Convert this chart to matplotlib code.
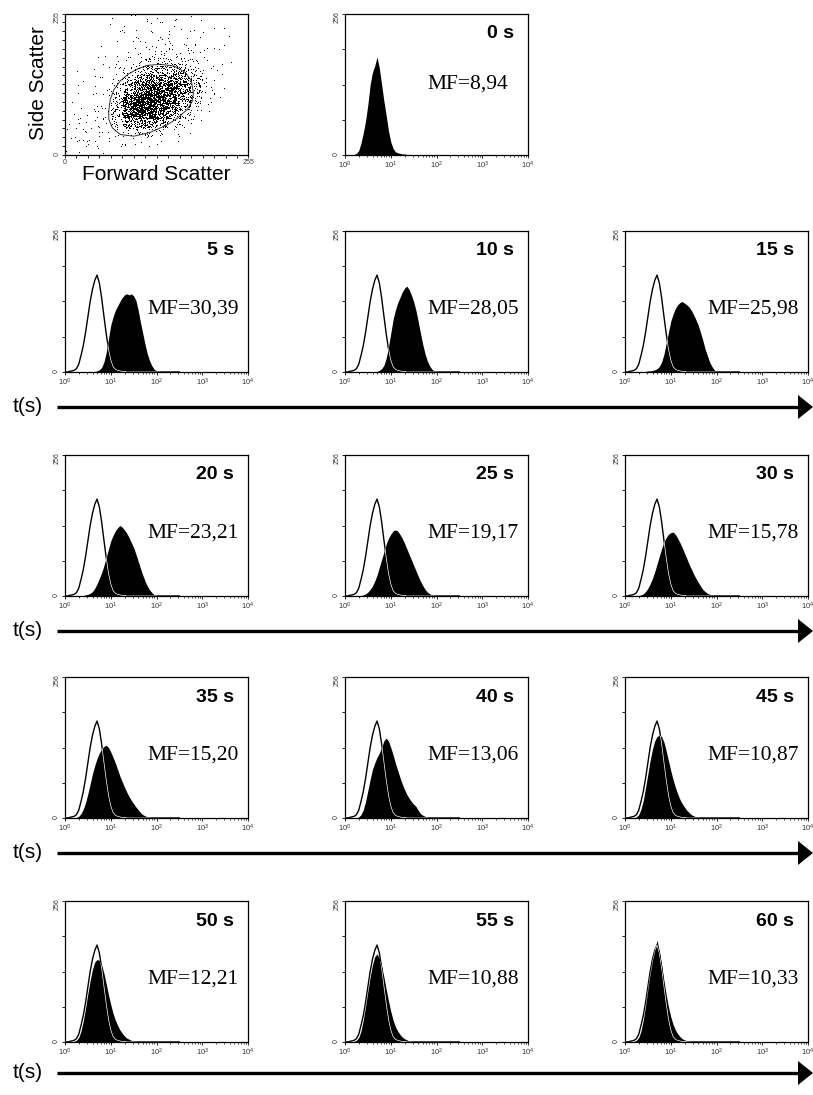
import numpy as np
import matplotlib
matplotlib.use('Agg')
import matplotlib.pyplot as plt
from matplotlib.patches import Polygon
from matplotlib.ticker import LogLocator, NullFormatter, MultipleLocator, FixedLocator

plt.rcParams['font.family'] = ['Liberation Sans', 'DejaVu Sans']
plt.rcParams['mathtext.fontset'] = 'custom'
plt.rcParams['mathtext.rm'] = 'Liberation Sans'
plt.rcParams['mathtext.it'] = 'Liberation Sans:italic'

W, H = 813, 1095

# ---- histogram data: counts per 0.05-decade channel (log10 fluorescence) ----
log_bins = np.round(np.arange(0, 2.55, 0.05), 2)
N = len(log_bins)


def pad(start, vals):
    out = [0] * start + vals
    return out + [0] * (N - len(out))


control = pad(0, [0, 0, 1, 2, 3, 6, 14, 30, 48, 72, 100, 128, 150, 166, 176, 162, 135, 102, 70, 42,
                  22, 10, 5, 3, 2, 1, 1])
h0 = pad(0, [0, 0, 0, 0, 1, 3, 8, 22, 40, 62, 92, 128, 150, 162, 178, 158, 128, 98, 72, 44,
             24, 12, 6, 4, 3, 2, 2, 1, 1])
h5 = pad(12, [1, 1, 2, 4, 8, 18, 35, 60, 85, 100, 112, 120, 128, 135, 140, 142, 140, 142, 138, 130,
              112, 90, 70, 50, 33, 20, 11, 5, 2, 1])
h10 = pad(14, [1, 3, 6, 12, 25, 45, 70, 95, 112, 125, 135, 145, 152, 156, 150, 140, 128, 112, 92, 70,
               50, 33, 20, 11, 5, 2, 1])
h15 = pad(8, [1, 1, 2, 2, 3, 4, 6, 10, 18, 32, 52, 72, 92, 105, 115, 122, 126, 128, 125, 122,
              118, 112, 104, 95, 85, 72, 58, 42, 30, 18, 10, 4, 1])
h20 = pad(8, [1, 2, 3, 5, 8, 14, 22, 32, 42, 55, 70, 85, 100, 110, 118, 124, 128, 125, 120, 114,
              106, 97, 88, 76, 63, 50, 38, 27, 18, 11, 6, 2, 1])
h25 = pad(7, [1, 2, 4, 7, 12, 18, 27, 38, 52, 66, 80, 94, 105, 112, 118, 120, 118, 112, 105, 96,
              86, 76, 66, 56, 46, 36, 27, 19, 12, 7, 4, 2, 1])
h30 = pad(6, [1, 2, 4, 8, 14, 22, 32, 44, 58, 72, 86, 98, 106, 112, 115, 116, 112, 105, 97, 88,
              78, 68, 58, 49, 40, 32, 25, 18, 12, 8, 5, 3, 1])
h35 = pad(5, [1, 3, 8, 16, 28, 44, 62, 80, 95, 108, 118, 125, 130, 132, 128, 120, 110, 100, 88, 76,
              66, 56, 47, 39, 32, 26, 20, 15, 10, 6, 4, 2, 1])
h40 = pad(6, [2, 6, 15, 30, 50, 70, 88, 100, 110, 118, 128, 140, 145, 140, 128, 115, 100, 87, 74, 62,
              52, 43, 36, 30, 25, 21, 14, 8, 5, 3, 1])
h45 = pad(5, [2, 6, 16, 32, 55, 80, 105, 125, 140, 148, 150, 148, 138, 122, 104, 86, 70, 56, 44, 34,
              26, 20, 14, 10, 6, 4, 2, 1])
h50 = pad(4, [1, 3, 8, 20, 38, 62, 88, 112, 132, 145, 150, 148, 140, 125, 106, 86, 68, 52, 40, 30,
              22, 16, 11, 7, 5, 3, 2, 1])
h55 = pad(4, [1, 3, 8, 20, 40, 65, 92, 118, 140, 155, 160, 152, 138, 118, 96, 75, 56, 40, 28, 20,
              14, 9, 6, 4, 2, 1])
h60 = pad(4, [1, 3, 8, 20, 40, 66, 96, 124, 148, 166, 185, 165, 140, 112, 86, 64, 46, 32, 22, 15,
              10, 6, 4, 2, 1])

time_labels = ['0 s', '5 s', '10 s', '15 s', '20 s', '25 s', '30 s',
               '35 s', '40 s', '45 s', '50 s', '55 s', '60 s']
mf_labels = ['MF=8,94', 'MF=30,39', 'MF=28,05', 'MF=25,98', 'MF=23,21', 'MF=19,17', 'MF=15,78',
             'MF=15,20', 'MF=13,06', 'MF=10,87', 'MF=12,21', 'MF=10,88', 'MF=10,33']
filled = [h0, h5, h10, h15, h20, h25, h30, h35, h40, h45, h50, h55, h60]

# ---- dot plot: events per 16x16 cell (rows: SSC high -> low, cols: FSC low -> high) ----
ssc_fsc_density = [
    [0, 0, 0, 0, 1, 1, 1, 2, 1, 2, 1, 1, 1, 0, 0, 0],
    [0, 0, 0, 1, 1, 1, 1, 1, 2, 1, 1, 1, 1, 1, 0, 0],
    [0, 0, 0, 0, 1, 1, 2, 2, 2, 2, 2, 1, 1, 0, 1, 0],
    [0, 0, 0, 1, 1, 1, 2, 3, 3, 3, 2, 2, 1, 1, 0, 0],
    [0, 0, 0, 1, 1, 2, 3, 4, 5, 5, 4, 3, 2, 1, 0, 0],
    [0, 0, 1, 1, 2, 3, 6, 10, 14, 14, 10, 5, 2, 1, 1, 0],
    [0, 1, 1, 1, 3, 8, 18, 32, 40, 36, 24, 11, 3, 1, 0, 0],
    [0, 1, 1, 2, 5, 20, 48, 72, 80, 70, 44, 18, 4, 1, 0, 0],
    [0, 1, 1, 2, 10, 44, 92, 120, 120, 96, 58, 20, 4, 1, 0, 0],
    [0, 1, 2, 2, 16, 76, 136, 150, 132, 96, 52, 15, 3, 1, 0, 0],
    [1, 1, 2, 3, 24, 104, 160, 156, 120, 74, 32, 8, 2, 0, 0, 0],
    [1, 2, 3, 3, 24, 96, 132, 118, 80, 40, 14, 3, 1, 0, 0, 0],
    [1, 3, 3, 3, 12, 46, 62, 50, 30, 12, 4, 1, 0, 0, 0, 0],
    [2, 3, 3, 2, 4, 10, 14, 11, 6, 3, 1, 0, 0, 0, 0, 0],
    [2, 4, 3, 2, 1, 2, 2, 2, 1, 1, 0, 0, 0, 0, 0, 0],
    [1, 2, 2, 1, 1, 1, 0, 1, 0, 0, 0, 0, 0, 0, 0, 0],
]
gate_fsc = [61, 63, 68, 77, 88, 100, 114, 133, 152, 168, 176, 179, 177, 170, 157, 143, 119, 96, 77, 66, 61]
gate_ssc = [80, 100, 118, 134, 146, 155, 162, 164, 161, 149, 134, 112, 96, 82, 67, 55, 41, 34, 37, 49, 65]

# ---- layout in pixels ----
col_x = [65, 345, 625]
row_top = [14, 231, 455, 677, 901]
PW, PH = 183, 141
arrow_y = [407, 631, 853, 1073]


def px_axes(fig, x, top, w, h):
    return fig.add_axes([x / W, 1 - (top + h) / H, w / W, h / H])


def spread(n, seed):
    # deterministic in-cell placement of the events of one cell
    k = np.arange(n) + seed * 131.0
    return (np.abs(np.sin(k * 12.9898 + seed * 0.731) * 43758.5453) % 1,
            np.abs(np.sin(k * 78.233 + seed * 1.917) * 24634.6345) % 1)


fig = plt.figure(figsize=(W / 100, H / 100), dpi=100)

# overlay for arrows and free text, in pixel units
ov = fig.add_axes([0, 0, 1, 1])
ov.set_xlim(0, W)
ov.set_ylim(H, 0)
ov.axis('off')

for y in arrow_y:
    ov.plot([57, 800], [y, y], color='black', lw=2.4, solid_capstyle='butt')
    ov.add_patch(Polygon([[798, y - 12], [813, y], [798, y + 12]], closed=True, color='black', lw=0))
    ov.text(28, y, 't(s)', fontsize=15, ha='center', va='center')

# ---- dot plot ----
ax = px_axes(fig, col_x[0], row_top[0], PW, PH)
xs, ys = [], []
nrow = len(ssc_fsc_density)
for r, row in enumerate(ssc_fsc_density):
    for c, n in enumerate(row):
        if n == 0:
            continue
        u, v = spread(n, r * 16 + c + 1)
        xs.extend(c * 16 + 16 * u)
        ys.extend((nrow - 1 - r) * 16 + 16 * v)
ax.plot(xs, ys, ',', color='black')
ax.add_patch(Polygon(np.column_stack([gate_fsc, gate_ssc]), closed=True, fill=False,
                     edgecolor='#333333', lw=0.7))
ax.set_xlim(0, 255)
ax.set_ylim(0, 255)
ax.set_xticks([0, 255])
ax.set_yticks([0, 255])
ax.set_xticklabels(['0', '255'])
ax.set_yticklabels(['0', '255'])
ax.xaxis.set_minor_locator(MultipleLocator(16))
ax.yaxis.set_minor_locator(MultipleLocator(16))
ax.tick_params(which='both', direction='out', length=2, width=0.6, labelsize=5, pad=1,
               labelcolor='#444444')
ax.tick_params(axis='y', labelrotation=90)
for s in ax.spines.values():
    s.set_linewidth(0.9)
ov.text(39, 83, 'Side Scatter', fontsize=15, rotation=90, ha='center', va='center')
ov.text(156, 174, 'Forward Scatter', fontsize=15, ha='center', va='center')

# ---- histograms ----
chan = 10 ** log_bins
slots = [(0, 1)] + [(r, c) for r in range(1, 5) for c in range(3)]

for i, (r, c) in enumerate(slots):
    ax = px_axes(fig, col_x[c], row_top[r], PW, PH)
    if i > 0:
        ax.plot(chan, control, color='black', lw=1.0, zorder=2)
    fill = ax.fill_between(chan, 0, filled[i], color='black', lw=0, zorder=3)
    if i > 0:
        inner, = ax.plot(chan, control, color='white', lw=0.5, zorder=4)
        inner.set_clip_path(fill.get_paths()[0], ax.transData)
    ax.set_xscale('log')
    ax.set_xlim(1, 1e4)
    ax.set_ylim(0, 256)
    ax.xaxis.set_major_locator(LogLocator(base=10, numticks=6))
    ax.xaxis.set_minor_locator(LogLocator(base=10, subs=np.arange(2, 10), numticks=20))
    ax.xaxis.set_minor_formatter(NullFormatter())
    ax.yaxis.set_major_locator(FixedLocator([0, 64, 128, 192, 256]))
    ax.set_yticklabels(['0', '', '', '', '256'])
    ax.tick_params(which='major', direction='out', length=2.5, width=0.6, labelsize=5.5, pad=1,
                   labelcolor='#333333')
    ax.tick_params(which='minor', direction='out', length=1.6, width=0.5)
    ax.tick_params(axis='y', labelrotation=90, labelsize=5)
    for s in ax.spines.values():
        s.set_linewidth(0.9)
    ax.text(1 - 14 / PW, 1 - 20 / PH, time_labels[i], transform=ax.transAxes, fontsize=14,
            fontweight='bold', ha='right', va='center')
    ax.text(0.45, 0.50 if i == 0 else 0.45, mf_labels[i], transform=ax.transAxes, fontsize=15.5,
            family='Liberation Serif', ha='left', va='center')

fig.savefig('out.png', dpi=100)
